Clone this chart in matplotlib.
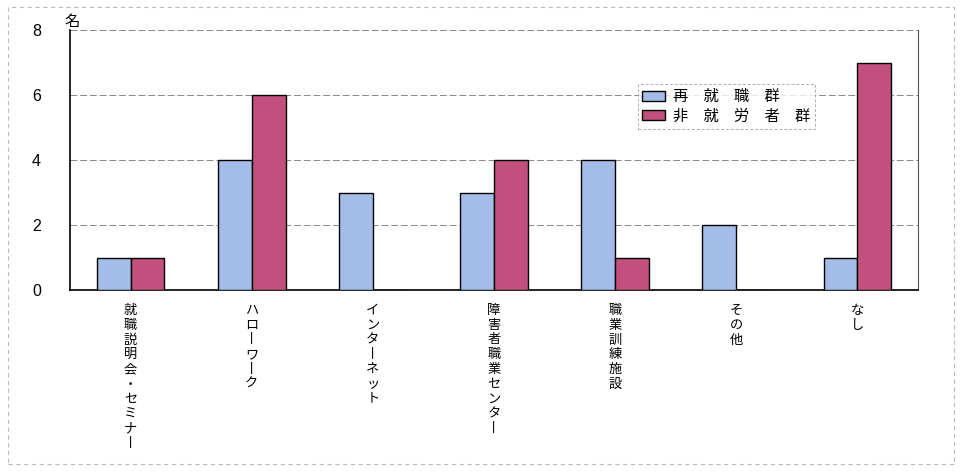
import matplotlib
matplotlib.use("Agg")
import matplotlib.pyplot as plt
from matplotlib.patches import Rectangle
import numpy as np

plt.rcParams["font.family"] = ["Noto Sans CJK JP", "DejaVu Sans"]

# data
categories = ["就職説明会・セミナー", "ハローワーク", "インターネット",
              "障害者職業センター", "職業訓練施設", "その他", "なし"]
series_names = ["再　就　職　群", "非　就　労　者　群"]
reemployed = [1, 4, 3, 3, 4, 2, 1]
not_working = [1, 6, 0, 4, 1, 0, 7]
yticks = [0, 2, 4, 6, 8]

BLUE = "#a3bce8"
RED = "#c24f7c"


def vertical(label):
    # one character per line, long vowel mark turned for vertical writing
    return "\n".join("丨" if c == "ー" else c for c in label)


fig = plt.figure(figsize=(9.62, 4.72), dpi=100)
ax = fig.add_axes([70 / 962, 1 - 290 / 472, 848 / 962, 260 / 472])

x = np.arange(len(categories))
w = 0.28
ax.bar(x - w / 2, reemployed, w, color=BLUE, edgecolor="black",
       linewidth=1.0, label=series_names[0], zorder=3)
ax.bar(x + w / 2, not_working, w, color=RED, edgecolor="black",
       linewidth=1.0, label=series_names[1], zorder=3)

ax.set_xlim(-0.5, len(categories) - 0.5)
ax.set_ylim(0, 8)
ax.set_yticks(yticks)
ax.set_yticklabels([str(t) for t in yticks], fontsize=11.5,
                   family=["Liberation Sans", "DejaVu Sans"])
ax.tick_params(axis="y", length=0, pad=21)
ax.set_xticks(x)
ax.set_xticklabels([vertical(c) for c in categories], fontsize=9.5,
                   linespacing=1.18, va="top")
ax.tick_params(axis="x", length=0, pad=10)

ax.grid(axis="y", color="#888888", linestyle=(0, (7, 3)), linewidth=0.7,
        zorder=0)
ax.spines["top"].set_visible(False)
ax.spines["right"].set_color("#555555")
ax.spines["right"].set_linewidth(0.8)
ax.spines["left"].set_linewidth(1.2)
ax.spines["bottom"].set_linewidth(1.2)

ax.text(-0.006, 1.0, "名", transform=ax.transAxes, ha="left", va="bottom",
        fontsize=11)

leg = ax.legend(loc="upper left", bbox_to_anchor=(560 / 848, 1 - 46 / 260),
                fontsize=11, frameon=True, fancybox=False,
                handlelength=1.5, handleheight=0.6, borderpad=0.3,
                labelspacing=0.15, handletextpad=0.5)
leg.get_frame().set_edgecolor("#999999")
leg.get_frame().set_linestyle((0, (3, 2)))
leg.get_frame().set_linewidth(0.7)

# dashed outer frame of the scanned figure
fig.patches.append(Rectangle((8 / 962, 8 / 472), 946 / 962, 457 / 472,
                             transform=fig.transFigure, fill=False,
                             edgecolor="#bbbbbb", linestyle=(0, (4, 3)),
                             linewidth=0.8))

fig.savefig("out.png", dpi=100)
